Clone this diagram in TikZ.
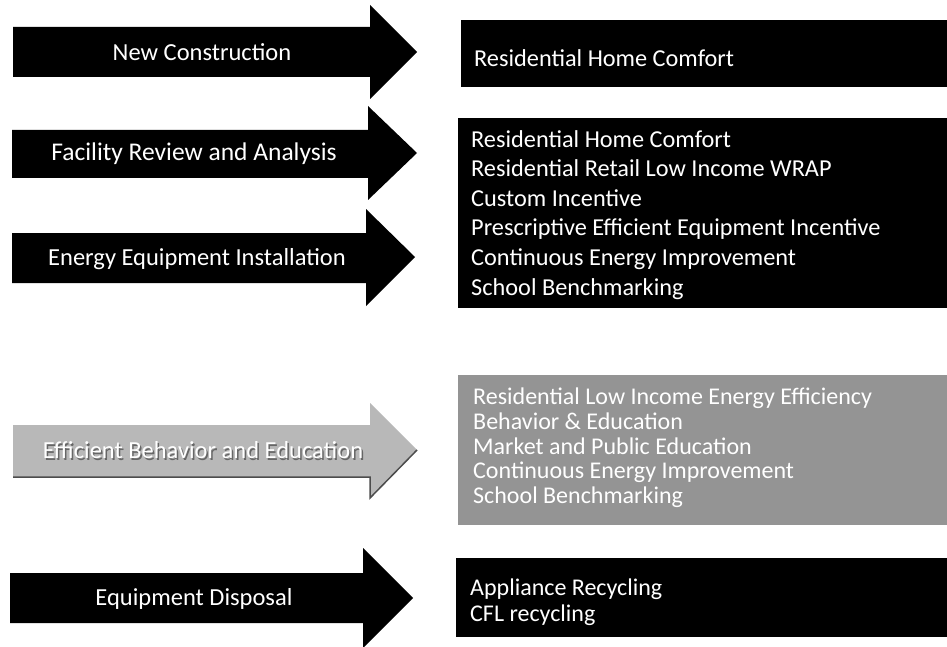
\documentclass[tikz,border=0pt]{standalone}
\usepackage{fontspec}
\setmainfont{Carlito}
\begin{document}
\begin{tikzpicture}[x=1pt,y=-1pt,
  blackarrow/.style={fill=black},
  grayarrow/.style={fill=black!28},
  arrowlabel/.style={text=white,font=\fontsize{24.5}{28}\selectfont,inner sep=0pt},
  listtext/.style={text=white,font=\fontsize{24.3}{29.6}\selectfont,align=left,anchor=north west,inner sep=0pt}]
\useasboundingbox (0,0) rectangle (947,647);
\fill[white] (0,0) rectangle (947,647);
% arrows
\fill[blackarrow] (13,27) -- (370,27) -- (370,5) -- (417,52) -- (370,99) -- (370,77) -- (13,77) -- cycle;
\node[arrowlabel] (a1) at (202,52) {New Construction};
\fill[blackarrow] (12,130) -- (368,130) -- (368,106) -- (417,153) -- (368,200) -- (368,178) -- (12,178) -- cycle;
\node[arrowlabel,font=\fontsize{25.5}{28}\selectfont] (a2) at (194,154) {Facility Review and Analysis};
\fill[blackarrow] (12,233) -- (366,233) -- (366,209) -- (415,257) -- (366,306) -- (366,283) -- (12,283) -- cycle;
\node[arrowlabel] (a3) at (197,259) {Energy Equipment Installation};
\fill[grayarrow] (13,425) -- (370,425) -- (370,403) -- (417,450) -- (370,498) -- (370,477) -- (13,477) -- cycle;
\draw[black!70,line width=1.5pt] (417,450) -- (370,498) -- (370,477) -- (13,477);
\node[arrowlabel,text=black!60] at (204.5,452) {Efficient Behavior and Education};
\node[arrowlabel] (a4) at (203,450.5) {Efficient Behavior and Education};
\fill[blackarrow] (10,573) -- (363,573) -- (363,548) -- (413,598) -- (363,648) -- (363,623) -- (10,623) -- cycle;
\node[arrowlabel] (a5) at (194,599) {Equipment Disposal};
% boxes
\fill (461,20) rectangle (947,87);
\node[listtext,anchor=west] (b1) at (474,58) {Residential Home Comfort};
\fill (458,118) rectangle (947,308);
\node[listtext] (b2) at (471,130) {Residential Home Comfort\\Residential Retail Low Income WRAP\\Custom Incentive\\Prescriptive Efficient Equipment Incentive\\Continuous Energy Improvement\\School Benchmarking};
\fill[black!42] (458,375) rectangle (947,525);
\node[listtext,font=\fontsize{24}{24.7}\selectfont] (b4) at (473,388) {Residential Low Income Energy Efficiency\\Behavior \& Education\\Market and Public Education\\Continuous Energy Improvement\\School Benchmarking};
\fill (456,558) rectangle (947,637);
\node[listtext,font=\fontsize{24}{26}\selectfont] (b5) at (470,579) {Appliance Recycling\\CFL recycling};
\end{tikzpicture}
\end{document}
